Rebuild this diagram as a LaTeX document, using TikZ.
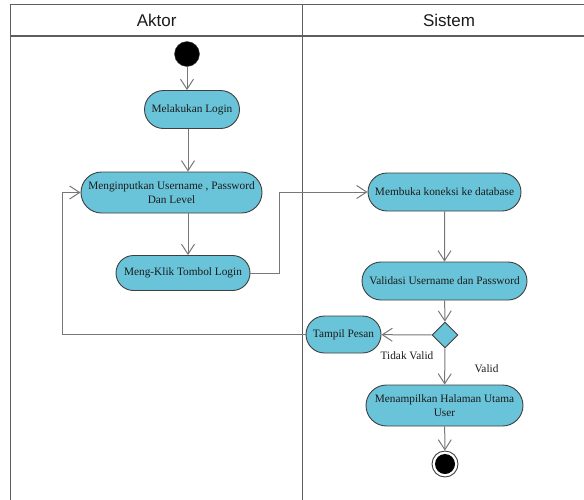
\documentclass[tikz,border=0pt]{standalone}
\usepackage{fontspec}
\setmainfont{Liberation Serif}
\setsansfont{Liberation Sans}
\usetikzlibrary{shapes.misc,shapes.geometric,arrows.meta}
\definecolor{actfill}{HTML}{6AC4D9}
\definecolor{actline}{HTML}{3F3F3F}
\definecolor{flowline}{HTML}{777777}
\definecolor{frameline}{HTML}{5E5E5E}
\definecolor{txt}{HTML}{1A1A1A}
\begin{document}
\begin{tikzpicture}[x=1pt,y=-1pt,
  act/.style={rounded rectangle, draw=actline, line width=0.9pt, fill=actfill,
    inner xsep=2pt, inner ysep=1pt, align=center,
    font=\fontsize{11.3}{14.3}\selectfont, text=txt},
  flow/.style={draw=flowline, line width=1pt, -{Straight Barb[length=10pt,width=13pt]}},
  frame/.style={draw=frameline, line width=1.3pt},
  lanehead/.style={font=\sffamily\fontsize{17}{20}\selectfont, text=txt},
  lbl/.style={font=\fontsize{11.3}{14}\selectfont, text=txt, inner sep=0pt},
  decision/.style={diamond, draw=actline, line width=0.9pt, fill=actfill, minimum width=26pt, minimum height=26pt, inner sep=0pt, aspect=1}
]
\useasboundingbox (0,0) rectangle (584,499);
\clip (0,0) rectangle (584,499);
% swimlanes
\draw[frame] (10.7,4.7) rectangle (600,510);
\draw[frame] (10.7,36) -- (600,36);
\draw[frame] (302.7,4.7) -- (302.7,510);
\node[lanehead] (hakt) at (156.7,20.5) {Aktor};
\node[lanehead] (hsis) at (449,20.5) {Sistem};
% nodes
\node[circle, fill=black, draw=actline, minimum size=25pt, inner sep=0pt] (start) at (187,54) {};
\node[act, minimum width=99pt, minimum height=38pt] (mel) at (192,109.5) {Melakukan Login};
\node[act, minimum width=185pt, minimum height=41pt] (inp) at (171.5,192.5) {Menginputkan Username , Password\\Dan Level};
\node[act, minimum width=138pt, minimum height=35pt] (klik) at (183,273) {Meng-Klik Tombol Login};
\node[act, minimum width=157pt, minimum height=38pt] (buka) at (444.5,192) {Membuka koneksi ke database};
\node[act, minimum width=169pt, minimum height=38pt] (val) at (444.5,281) {Validasi Username dan Password};
\node[decision] (dec) at (445,335) {};
\node[act, minimum width=79pt, minimum height=37pt] (tampil) at (343.5,334.5) {Tampil Pesan};
\node[act, minimum width=161pt, minimum height=41pt] (utama) at (444.5,405.5) {Menampilkan Halaman Utama\\User};
\node[circle, draw=actline, line width=0.9pt, fill=white, minimum size=26pt, inner sep=0pt] (end) at (445,464) {};
\node[circle, fill=black, minimum size=20pt, inner sep=0pt] (endin) at (end) {};
% labels
\node[lbl] (tv) at (407,356) {Tidak Valid};
\node[lbl] (vl) at (486.5,369) {Valid};
% flows
\draw[flow] (start) -- (start |- mel.north);
\draw[flow] ([xshift=1pt]start |- mel.south) -- ([xshift=1pt]start |- inp.north);
\draw[flow] ([xshift=1pt]start |- inp.south) -- ([xshift=1pt]start |- klik.north);
\draw[flow] (klik.east) -- ++(29,0) |- (buka.west);
\draw[flow] (buka) -- (val);
\draw[flow] (val) -- (dec);
\draw[flow] (dec) -- (tampil);
\draw[flow] (dec) -- (utama);
\draw[flow] (utama) -- (end);
\draw[flow] (tampil.west) -- ++(-243,0) |- (inp.west);
\end{tikzpicture}
\end{document}
